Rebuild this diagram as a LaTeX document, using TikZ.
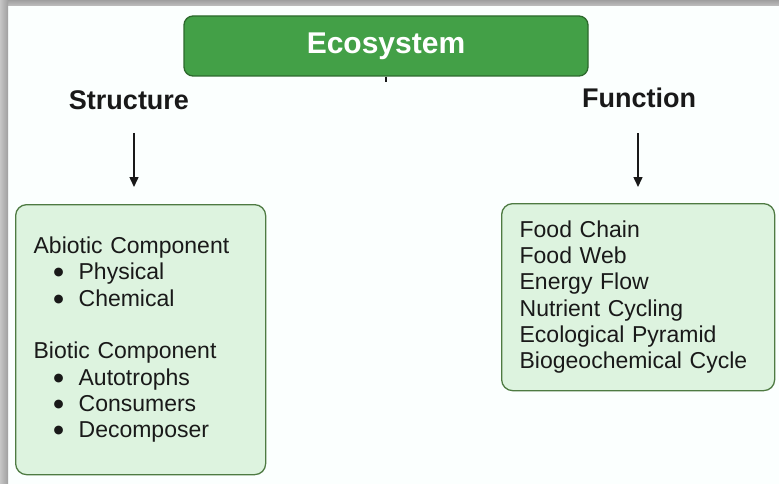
\documentclass[tikz,border=0pt]{standalone}
\usepackage{fontspec}
\setmainfont{Liberation Sans}
\newfontfamily\symfont{DejaVu Sans}
\usetikzlibrary{arrows.meta}
\definecolor{ecogreen}{RGB}{67,160,71}
\definecolor{ecoedge}{RGB}{45,105,45}
\definecolor{panelfill}{RGB}{221,243,223}
\definecolor{paneledge}{RGB}{78,122,66}
\definecolor{ink}{RGB}{25,25,25}
\definecolor{pagebg}{RGB}{251,255,254}
% indented list bullet
\newcommand\listbul{\hspace*{20pt}\makebox[25pt][l]{\raisebox{4pt}{\symfont\fontsize{11.5}{11.5}\selectfont ●}}}
\begin{document}
\begin{tikzpicture}[x=1pt,y=-1pt,
  titlebox/.style={draw=ecoedge, line width=1.3pt, fill=ecogreen, rounded corners=9pt,
    minimum width=404pt, minimum height=60pt, text=white,
    font=\fontsize{30}{34}\selectfont\bfseries, inner sep=0pt},
  heading/.style={font=\fontsize{27}{30}\selectfont\bfseries, text=ink, inner sep=0pt},
  panel/.style={draw=paneledge, line width=1.3pt, fill=panelfill, rounded corners=11pt,
    inner xsep=18pt, inner ysep=0pt, align=left, text=ink,
    font=\fontsize{23}{26.3}\selectfont, anchor=north west},
  arr/.style={draw=ink, line width=1.5pt, -{Triangle[length=10pt,width=9pt]}},
]
% page and frame shadow
\fill[pagebg] (0,0) rectangle (779,484);
\shade[top color=gray!75, bottom color=gray!50] (0,0) rectangle (779,6);
\shade[left color=gray!45, right color=gray!75] (0,0) rectangle (8,484);
\useasboundingbox (0,0) rectangle (779,484);

% title
\node[titlebox] (eco) at (386,46) {Ecosystem};
\draw[ink, line width=1.4pt] (eco.south) -- ++(0,5);

% branch headings
\node[heading] (struct) at (129,100) {Structure};
\node[heading] (func) at (639,98) {Function};

% panels
\node[panel, minimum width=250pt, minimum height=270pt, text width=214pt] (sbox) at (15,204)
  {Abiotic Component\\
   \listbul Physical\\
   \listbul Chemical\\[26.3pt]
   Biotic Component\\
   \listbul Autotrophs\\
   \listbul Consumers\\
   \listbul Decomposer};
\node[panel, minimum width=273pt, minimum height=187pt, text width=237pt] (fbox) at (501,203)
  {Food Chain\\
   Food Web\\
   Energy Flow\\
   Nutrient Cycling\\
   Ecological Pyramid\\
   Biogeochemical Cycle};

% arrows
\coordinate (sx) at (134,0);
\coordinate (fx) at (638,0);
\draw[arr, shorten <=23pt, shorten >=17pt] (struct.south -| sx) -- (sbox.north -| sx);
\draw[arr, shorten <=25pt, shorten >=16pt] (func.south -| fx) -- (fbox.north -| fx);
\end{tikzpicture}
\end{document}
